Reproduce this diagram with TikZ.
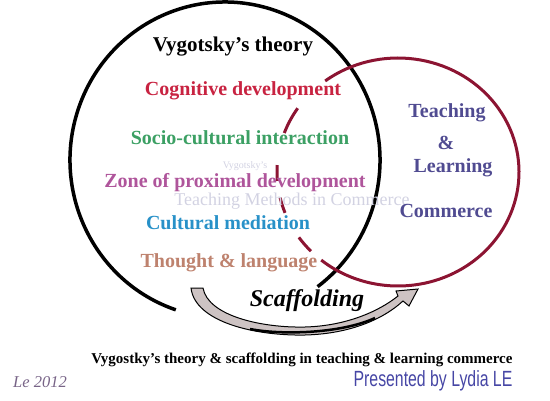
\documentclass[tikz,border=0pt]{standalone}
\usepackage{fontspec}
\setmainfont{Liberation Serif}
\newfontfamily\presfont[FakeStretch=0.72]{Liberation Sans}
\definecolor{maroon}{RGB}{140,20,50}
\definecolor{cogred}{RGB}{200,35,65}
\definecolor{sociogreen}{RGB}{60,160,100}
\definecolor{zonepink}{RGB}{175,85,155}
\definecolor{medblue}{RGB}{40,145,200}
\definecolor{thoughttan}{RGB}{190,130,110}
\definecolor{teachblue}{RGB}{80,75,145}
\definecolor{wmgray}{RGB}{210,210,226}
\definecolor{yeargray}{RGB}{120,100,135}
\definecolor{presblue}{RGB}{70,70,165}
\definecolor{arrowfill}{RGB}{205,195,195}

\begin{document}
\begin{tikzpicture}[x=1pt,y=-1pt]
\tikzset{
  item/.style={font=\fontsize{20}{24}\selectfont\bfseries},
  watermark/.style={font=\fontsize{18}{21}\selectfont, text=wmgray},
  commerce/.style={item, text=teachblue}
}
\useasboundingbox (0,0) rectangle (550,400);

% the two circles
\coordinate (vyg) at (225,160);
\coordinate (tlc) at (398,172);
\draw[line width=3.5pt] (vyg) ++(108.5:155 and 158)
  arc[start angle=108.5, end angle=413.3, x radius=155, y radius=158];
\draw[maroon, line width=3pt] (tlc) ++(-127:121 and 114)
  arc[start angle=-127, end angle=129.4, x radius=121, y radius=114];
\foreach \a/\b in {136/145, 159/167, 175.5/183.5, 200/214}{
  \draw[maroon, line width=3pt] (tlc) ++(\a:121 and 114)
    arc[start angle=\a, end angle=\b, x radius=121, y radius=114];
}

% watermark
\node[watermark, font=\fontsize{10}{12}\selectfont] (wm1) at (245,166) {Vygotsky's};
\node[watermark] (wm2) at (292,201) {Teaching Methods in Commerce};

% left circle
\node[item, font=\fontsize{21}{25}\selectfont\bfseries] (theory) at (233,47) {Vygotsky's theory};
\node[item, text=cogred] (cogdev) at (243,91) {Cognitive development};
\node[item, text=sociogreen] (socio) at (240,138) {Socio-cultural interaction};
\node[item, text=zonepink] (zpd) at (235,183) {Zone of proximal development};
\node[item, text=medblue] (mediation) at (228,223) {Cultural mediation};
\node[item, text=thoughttan] (thought) at (229,263) {Thought \& language};

% right circle
\node[commerce] (teaching) at (447,113) {Teaching};
\node[commerce] (amp) at (446,143) {\&};
\node[commerce] (learning) at (453,168) {Learning};
\node[commerce] (commerce) at (446,211) {Commerce};

% scaffolding arrow
\filldraw[fill=arrowfill, draw=black, line width=1pt]
  (191,288) -- (203,288)
  .. controls (208,316) and (262,328) .. (305,327)
  .. controls (345,326) and (378,312) .. (398,296)
  -- (396,291) -- (418,289) -- (409,306) -- (403,301)
  .. controls (380,322) and (345,334) .. (305,335)
  .. controls (255,336) and (195,322) .. (191,288) -- cycle;
\draw[line width=2.5pt] (250,329) .. controls (280,335) and (340,334) .. (375,318);
\node[font=\fontsize{24}{28}\selectfont\bfseries\itshape] (scaff) at (307,301) {Scaffolding};

% bottom lines
\node[font=\fontsize{15}{18}\selectfont\bfseries] (caption) at (302,360)
  {Vygostky's theory \& scaffolding in teaching \& learning commerce};
\node[font=\fontsize{16.5}{19}\selectfont\itshape, text=yeargray] (year) at (40,382) {Le 2012};
\node[font=\fontsize{22}{26}\selectfont\presfont, text=presblue] (presenter) at (433,381)
  {Presented by Lydia LE};
\end{tikzpicture}
\end{document}
